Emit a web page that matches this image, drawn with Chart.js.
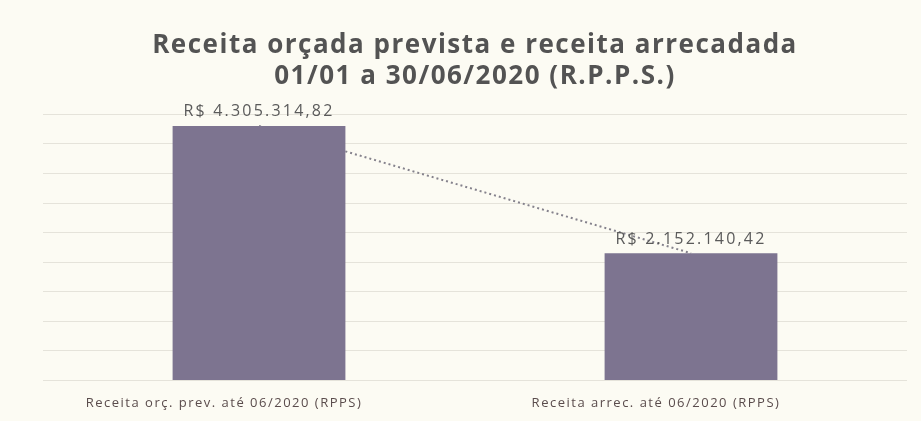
<!DOCTYPE html>
<html>
<head>
<meta charset="utf-8">
<script src="https://cdn.jsdelivr.net/npm/chart.js@4/dist/chart.umd.min.js"></script>
<style>
  html, body { margin: 0; padding: 0; background: #fcfbf3; }
  #wrap { width: 921px; height: 421px; position: relative; }
</style>
</head>
<body>
<div id="wrap"><canvas id="c" width="921" height="421"></canvas></div>
<script>
// Receita RPPS, primeiro semestre de 2020
const categorias = ['Receita orç. prev. até 06/2020 (RPPS)', 'Receita arrec. até 06/2020 (RPPS)'];
const valores = [4305314.82, 2152140.42];
const titulo = ['Receita orçada prevista e receita arrecadada', '01/01 a 30/06/2020 (R.P.P.S.)'];
const eixoMax = 4500000;
const eixoPasso = 500000;

const fmtBRL = v => 'R$ ' + v.toLocaleString('pt-BR', { minimumFractionDigits: 2, maximumFractionDigits: 2 });

// fundo creme e espaçamento de letras
const fundo = {
  id: 'fundo',
  beforeDraw(chart) {
    const ctx = chart.ctx;
    ctx.save();
    ctx.fillStyle = '#fcfbf3';
    ctx.fillRect(0, 0, chart.width, chart.height);
    ctx.restore();
    ctx.letterSpacing = '1.5px';
  }
};

// rótulos de valor acima das barras
const rotulos = {
  id: 'rotulos',
  afterDatasetsDraw(chart) {
    const ctx = chart.ctx;
    const meta = chart.getDatasetMeta(1);
    ctx.save();
    ctx.letterSpacing = '2.2px';
    ctx.font = '16px "Open Sans", sans-serif';
    ctx.fillStyle = '#5a5a5a';
    ctx.textAlign = 'center';
    ctx.textBaseline = 'bottom';
    meta.data.forEach((bar, i) => {
      ctx.fillText(fmtBRL(valores[i]), bar.x, bar.y - 6);
    });
    ctx.restore();
  }
};

new Chart(document.getElementById('c'), {
  data: {
    labels: categorias,
    datasets: [
      {
        type: 'line',
        data: valores,
        borderColor: '#85828c',
        borderWidth: 2,
        borderDash: [2, 3],
        pointRadius: 0,
        fill: false,
        order: 2
      },
      {
        type: 'bar',
        data: valores,
        backgroundColor: '#7d7490',
        barPercentage: 0.8,
        categoryPercentage: 0.5,
        order: 1
      }
    ]
  },
  options: {
    responsive: false,
    animation: false,
    layout: { padding: { left: 43, right: 14, top: 0, bottom: -5 } },
    plugins: {
      legend: { display: false },
      tooltip: { enabled: false },
      title: {
        display: true,
        text: titulo,
        color: '#535353',
        font: { family: '"Open Sans", sans-serif', size: 26, weight: 'bold', lineHeight: 1.2 },
        padding: { top: 30, bottom: 22 }
      }
    },
    scales: {
      x: {
        grid: { display: false, drawTicks: false },
        border: { display: false },
        ticks: {
          color: '#5a4c4c',
          font: { family: '"Open Sans", sans-serif', size: 13 },
          padding: 15,
          labelOffset: -35
        }
      },
      y: {
        min: 0,
        max: eixoMax,
        ticks: { display: false, stepSize: eixoPasso },
        grid: { color: 'rgba(90,85,70,0.14)', lineWidth: 1, drawTicks: false },
        border: { display: false }
      }
    }
  },
  plugins: [fundo, rotulos]
});
</script>
</body>
</html>
